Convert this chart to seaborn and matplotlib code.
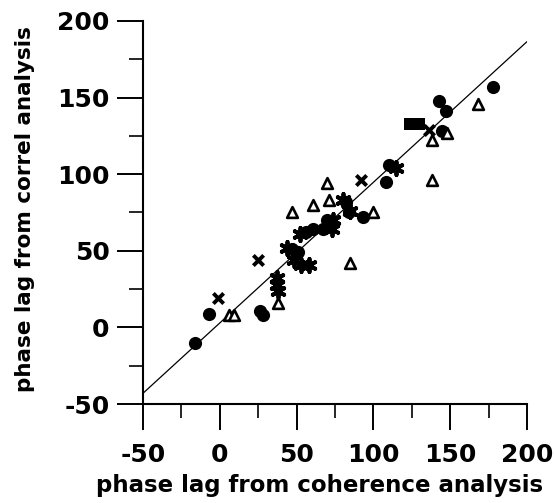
import numpy as np
import pandas as pd
import matplotlib
matplotlib.use("Agg")
import matplotlib.pyplot as plt
from matplotlib.ticker import MultipleLocator
import seaborn as sns

# Phase lags (degrees): coherence analysis (x) vs. correlation analysis (y)
circle_x = [-16, -7, 26, 28, 47, 51, 56, 61, 67, 70, 72, 82, 84, 93, 108, 110, 143, 147, 178, 145]
circle_y = [-10, 9, 11, 8, 51, 49, 62, 64, 64, 70, 66, 82, 75, 72, 95, 106, 148, 141, 157, 128]

square_x = [124, 130]
square_y = [133, 133]

cross_x = [-1, 25, 136, 92]
cross_y = [19, 44, 129, 96]

star_x = [37, 37, 38, 48, 53, 58, 52, 73, 74, 80, 85, 115, 44]
star_y = [32, 28, 24, 44, 41, 41, 61, 64, 70, 83, 76, 104, 52]

tri_x = [6, 9, 38, 47, 61, 70, 71, 85, 100, 138, 138, 168, 148]
tri_y = [8, 8, 16, 75, 80, 94, 83, 42, 75, 122, 96, 146, 127]

# Least-squares line through the pooled points
fit_slope = 0.918
fit_intercept = 2.9

x_ticks = [-50, 0, 50, 100, 150, 200]
y_ticks = [-50, 0, 50, 100, 150, 200]
x_label = "phase lag from coherence analysis"
y_label = "phase lag from correl analysis"

sns.set_theme(style="ticks")
plt.rcParams["font.family"] = ["DejaVu Sans"]
plt.rcParams["font.weight"] = "bold"
plt.rcParams["axes.unicode_minus"] = False

fig = plt.figure(figsize=(5.54, 5.03), dpi=100)
ax = fig.add_axes([0.2581, 0.1968, 0.6931, 0.7615])

line_x = np.array([-50.0, 200.0])
ax.plot(line_x, fit_slope * line_x + fit_intercept, color="black", lw=0.9, zorder=1)

groups = [
    (circle_x, circle_y, dict(marker="o", s=90, color="black", edgecolor="black", linewidth=0)),
    (square_x, square_y, dict(marker="s", s=80, color="black", edgecolor="black", linewidth=0)),
    (cross_x, cross_y, dict(marker="x", s=55, color="black", linewidth=2.8)),
    (star_x, star_y, dict(marker=(6, 2, 0), s=90, color="black", linewidth=2.8)),
    (tri_x, tri_y, dict(marker="^", s=60, facecolor="white", edgecolor="black", linewidth=1.9)),
]
for gx, gy, kw in groups:
    df = pd.DataFrame({"x": gx, "y": gy})
    sns.scatterplot(data=df, x="x", y="y", ax=ax, legend=False, zorder=3, **kw)

ax.set_xlim(-50, 200)
ax.set_ylim(-50, 200)
ax.set_xticks(x_ticks)
ax.set_yticks(y_ticks)
ax.xaxis.set_minor_locator(MultipleLocator(25))
ax.yaxis.set_minor_locator(MultipleLocator(25))

sns.despine(ax=ax)
for side in ("left", "bottom"):
    ax.spines[side].set_linewidth(1.5)
    ax.spines[side].set_color("black")

ax.tick_params(which="major", direction="out", length=19, width=1.4,
               labelsize=18, colors="black")
ax.tick_params(axis="x", which="major", pad=9)
ax.tick_params(axis="y", which="major", pad=5)
ax.tick_params(which="minor", direction="out", length=10, width=1.4)
for lab in ax.get_xticklabels() + ax.get_yticklabels():
    lab.set_fontweight("bold")

ax.set_xlabel(x_label, fontsize=16.5, fontweight="bold", color="black")
ax.set_ylabel(y_label, fontsize=15.5, fontweight="bold", color="black", va="center")
ax.xaxis.set_label_coords(0.461, -0.183)
ax.yaxis.set_label_coords(-0.307, 0.51)

fig.savefig("out.png", dpi=100, facecolor="white")
